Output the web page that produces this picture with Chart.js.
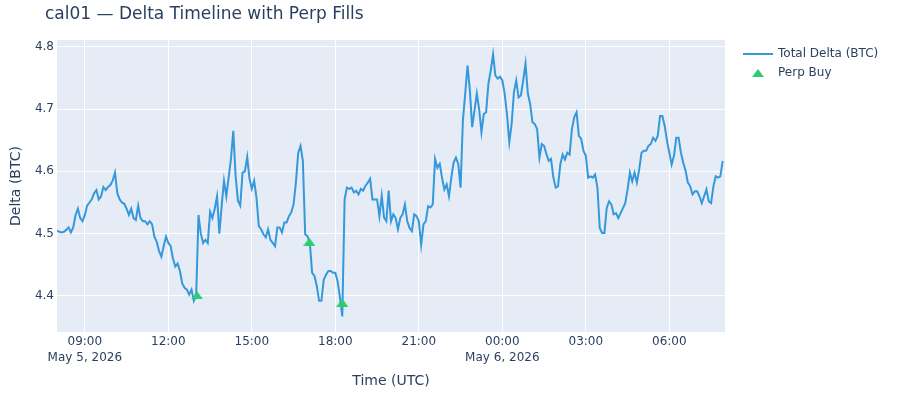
<!DOCTYPE html>
<html>
<head>
<meta charset="utf-8">
<script src="https://cdn.jsdelivr.net/npm/chart.js@4.4.1/dist/chart.umd.min.js"></script>
<style>
	html, body { margin: 0; padding: 0; background: #fff; }
	#wrap { width: 900px; height: 400px; }
</style>
</head>
<body>
<div id="wrap"><canvas id="chartDelta" width="900" height="400"></canvas></div>
<script>
'use strict';

// minutes since 2026-05-05 08:00 UTC, one value every 5 minutes
var stepMinutes = 5;
var deltaValues = [
	4.505, 4.503, 4.502, 4.503, 4.506, 4.510, 4.502, 4.510, 4.530, 4.540,
	4.525, 4.520, 4.530, 4.545, 4.550, 4.555, 4.565, 4.570, 4.555, 4.560,
	4.575, 4.570, 4.575, 4.578, 4.585, 4.598, 4.565, 4.555, 4.550, 4.548,
	4.540, 4.530, 4.540, 4.525, 4.522, 4.545, 4.525, 4.520, 4.520, 4.515,
	4.520, 4.515, 4.495, 4.487, 4.472, 4.463, 4.480, 4.495, 4.485, 4.480,
	4.460, 4.447, 4.452, 4.440, 4.420, 4.413, 4.410, 4.402, 4.410, 4.392,
	4.400, 4.530, 4.500, 4.485, 4.490, 4.485, 4.535, 4.525, 4.540, 4.560,
	4.500, 4.545, 4.585, 4.560, 4.590, 4.620, 4.665, 4.593, 4.553, 4.545,
	4.598, 4.600, 4.623, 4.588, 4.572, 4.585, 4.558, 4.512, 4.507, 4.499,
	4.494, 4.507, 4.490, 4.485, 4.480, 4.510, 4.510, 4.502, 4.518, 4.518,
	4.528, 4.534, 4.547, 4.582, 4.630, 4.641, 4.617, 4.499, 4.496, 4.485,
	4.437, 4.432, 4.416, 4.392, 4.392, 4.426, 4.434, 4.440, 4.440, 4.437,
	4.437, 4.423, 4.397, 4.367, 4.555, 4.574, 4.572, 4.574, 4.566, 4.569,
	4.563, 4.572, 4.569, 4.577, 4.582, 4.588, 4.555, 4.555, 4.555, 4.528,
	4.561, 4.526, 4.520, 4.569, 4.520, 4.531, 4.525, 4.507, 4.525, 4.531,
	4.547, 4.520, 4.509, 4.504, 4.531, 4.528, 4.520, 4.482, 4.515, 4.520,
	4.544, 4.542, 4.547, 4.620, 4.606, 4.612, 4.590, 4.571, 4.579, 4.560,
	4.590, 4.614, 4.622, 4.612, 4.574, 4.682, 4.725, 4.770, 4.730, 4.671,
	4.698, 4.725, 4.700, 4.663, 4.692, 4.695, 4.741, 4.762, 4.788, 4.754,
	4.749, 4.752, 4.746, 4.725, 4.692, 4.647, 4.676, 4.727, 4.746, 4.719,
	4.722, 4.746, 4.773, 4.725, 4.708, 4.679, 4.676, 4.668, 4.622, 4.644,
	4.641, 4.628, 4.617, 4.620, 4.590, 4.574, 4.576, 4.611, 4.627, 4.619,
	4.630, 4.627, 4.668, 4.687, 4.695, 4.657, 4.652, 4.633, 4.625, 4.590,
	4.592, 4.590, 4.595, 4.574, 4.509, 4.501, 4.501, 4.541, 4.552, 4.547,
	4.531, 4.533, 4.525, 4.533, 4.541, 4.549, 4.571, 4.598, 4.584, 4.598,
	4.582, 4.603, 4.630, 4.633, 4.633, 4.641, 4.644, 4.654, 4.649, 4.657,
	4.689, 4.689, 4.673, 4.649, 4.630, 4.611, 4.625, 4.654, 4.654, 4.630,
	4.614, 4.601, 4.582, 4.576, 4.563, 4.568, 4.568, 4.560, 4.549, 4.560,
	4.571, 4.552, 4.549, 4.576, 4.592, 4.590, 4.592, 4.617
];

// perp buy fills (minutes since 08:00 UTC, delta)
var fillMinutes = [302, 544, 615];
var fillValues = [4.401, 4.487, 4.389];

// axis ticks
var xTickMinutes = [60, 240, 420, 600, 780, 960, 1140, 1320];
var xTickLabels = ['09:00', '12:00', '15:00', '18:00', '21:00', '00:00', '03:00', '06:00'];
var xTickDates = ['May 5, 2026', '', '', '', '', 'May 6, 2026', '', ''];
var yTicks = [4.4, 4.5, 4.6, 4.7, 4.8];

var textColor = '#2a3f5f';
var fontFamily = '"DejaVu Sans", verdana, arial, sans-serif';
var lineColor = '#3498db';
var buyColor = '#2ecc71';

var deltaPoints = deltaValues.map(function(v, i) {
	return { x: i * stepMinutes, y: v };
});
var fillPoints = fillMinutes.map(function(m, i) {
	return { x: m, y: fillValues[i] };
});

// plotly-like triangle-up marker (wider than tall)
var triangle = document.createElement('canvas');
triangle.width = 12;
triangle.height = 8;
(function() {
	var c = triangle.getContext('2d');
	c.fillStyle = buyColor;
	c.beginPath();
	c.moveTo(6, 0);
	c.lineTo(12, 8);
	c.lineTo(0, 8);
	c.closePath();
	c.fill();
})();

var plotBackground = {
	id: 'plotBackground',
	beforeDraw: function(chart) {
		var a = chart.chartArea;
		var ctx = chart.ctx;
		ctx.save();
		ctx.fillStyle = '#E5ECF6';
		ctx.fillRect(a.left, a.top, a.right - a.left, a.bottom - a.top);
		ctx.restore();
	}
};

var titleAndLegend = {
	id: 'titleAndLegend',
	afterDraw: function(chart) {
		var ctx = chart.ctx;
		ctx.save();
		ctx.fillStyle = textColor;
		ctx.textBaseline = 'middle';
		ctx.font = '17px ' + fontFamily;
		ctx.fillText('cal01 \u2014 Delta Timeline with Perp Fills', 45, 15);

		// legend
		ctx.strokeStyle = lineColor;
		ctx.lineWidth = 2;
		ctx.beginPath();
		ctx.moveTo(743, 54);
		ctx.lineTo(773, 54);
		ctx.stroke();
		ctx.drawImage(triangle, 752, 69);
		ctx.font = '12px ' + fontFamily;
		ctx.fillText(chart.data.datasets[0].label, 778, 54);
		ctx.fillText(chart.data.datasets[1].label, 778, 73);
		ctx.restore();
	}
};

var ctx = document.getElementById('chartDelta');
new Chart(ctx, {
	type: 'line',
	data: {
		datasets: [{
			label: 'Total Delta (BTC)',
			data: deltaPoints,
			borderColor: lineColor,
			borderWidth: 2,
			pointRadius: 0,
			tension: 0,
			fill: false,
			order: 2
		}, {
			type: 'scatter',
			label: 'Perp Buy',
			data: fillPoints,
			pointStyle: triangle,
			pointRadius: 6,
			backgroundColor: buyColor,
			borderColor: buyColor,
			showLine: false,
			order: 1
		}]
	},
	options: {
		responsive: false,
		animation: false,
		layout: {
			padding: { top: 40, right: 175, bottom: 0, left: 0 }
		},
		plugins: {
			legend: { display: false },
			title: { display: false },
			tooltip: { enabled: false }
		},
		scales: {
			x: {
				type: 'linear',
				min: 0,
				max: 1440,
				afterBuildTicks: function(scale) {
					scale.ticks = xTickMinutes.map(function(v) { return { value: v }; });
				},
				afterFit: function(scale) {
					scale.height = 68;
				},
				ticks: {
					autoSkip: false,
					maxRotation: 0,
					padding: 2,
					color: textColor,
					font: { family: fontFamily, size: 12, lineHeight: 1.35 },
					callback: function(value) {
						var k = xTickMinutes.indexOf(value);
						if (k < 0) return '';
						return xTickDates[k] ? [xTickLabels[k], xTickDates[k]] : xTickLabels[k];
					}
				},
				grid: {
					color: '#ffffff',
					lineWidth: 1,
					drawTicks: false
				},
				border: { display: false },
				title: {
					display: true,
					text: 'Time (UTC)',
					color: textColor,
					font: { family: fontFamily, size: 14 },
					padding: { top: 0, bottom: 10 }
				}
			},
			y: {
				min: 4.342,
				max: 4.811,
				afterBuildTicks: function(scale) {
					scale.ticks = yTicks.map(function(v) { return { value: v }; });
				},
				afterFit: function(scale) {
					scale.width = 57;
				},
				ticks: {
					padding: 3,
					color: textColor,
					font: { family: fontFamily, size: 12 },
					callback: function(value) {
						return value.toFixed(1);
					}
				},
				grid: {
					color: '#ffffff',
					lineWidth: 1,
					drawTicks: false
				},
				border: { display: false },
				title: {
					display: true,
					text: 'Delta (BTC)',
					color: textColor,
					font: { family: fontFamily, size: 14 },
					padding: { top: 8, bottom: 0 }
				}
			}
		}
	},
	plugins: [plotBackground, titleAndLegend]
});
</script>
</body>
</html>
